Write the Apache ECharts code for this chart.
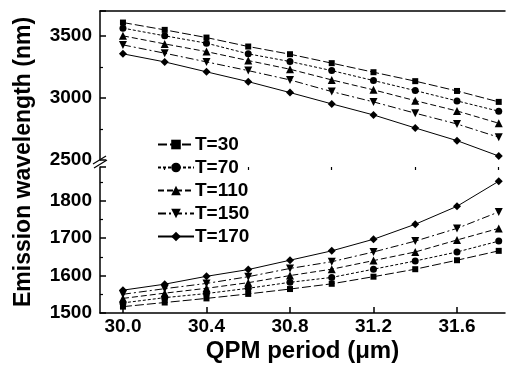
<!DOCTYPE html>
<html>
<head>
<meta charset="utf-8">
<script src="https://cdn.jsdelivr.net/npm/echarts@6/dist/echarts.min.js"></script>
<style>
  html, body { margin: 0; padding: 0; background: #fff; }
  #chart { width: 510px; height: 377px; }
</style>
</head>
<body>
<div id="chart"></div>
<script>
// QPM period vs emission wavelength, two branches on a broken y axis
const periods = [30.0, 30.2, 30.4, 30.6, 30.8, 31.0, 31.2, 31.4, 31.6, 31.8]
const temps = ['T=30', 'T=70', 'T=110', 'T=150', 'T=170']

// upper branch (nm)
const upperT30 = [3607, 3548, 3486, 3414, 3352, 3280, 3207, 3135, 3056, 2968]
const upperT70 = [3562, 3500, 3441, 3355, 3293, 3220, 3140, 3059, 2976, 2893]
const upperT110 = [3500, 3435, 3373, 3301, 3231, 3145, 3065, 2978, 2895, 2796]
const upperT150 = [3427, 3360, 3290, 3220, 3145, 3051, 2968, 2877, 2790, 2683]
const upperT170 = [3355, 3290, 3210, 3131, 3043, 2952, 2863, 2758, 2656, 2532]

// lower branch (nm)
const lowerT30 = [1517, 1528, 1539, 1551, 1564, 1578, 1597, 1617, 1641, 1666]
const lowerT70 = [1527, 1541, 1552, 1566, 1582, 1595, 1617, 1639, 1663, 1692]
const lowerT110 = [1539, 1553, 1566, 1581, 1600, 1617, 1640, 1663, 1695, 1726]
const lowerT150 = [1550, 1565, 1579, 1597, 1619, 1637, 1663, 1692, 1726, 1770]
const lowerT170 = [1561, 1577, 1598, 1616, 1641, 1666, 1697, 1737, 1785, 1852]

const xMajor = [30.0, 30.4, 30.8, 31.2, 31.6]
const xMinor = [30.2, 30.6, 31.0, 31.4, 31.8]

const upper = [upperT30, upperT70, upperT110, upperT150, upperT170]
const lower = [lowerT30, lowerT70, lowerT110, lowerT150, lowerT170]

const symbols = [
  'rect',
  'circle',
  'triangle',
  'path://M0,0 L10,0 L5,9 Z',
  'path://M5,0 L10,5 L5,10 L0,5 Z',
]
const symbolSizes = [6, 7, 8, 8, 8]
const dashes = [[9, 3], [3, 2], [6, 3], [8, 3, 2, 3], 'solid']

const FONT = '"Liberation Sans", Arial, sans-serif'
const X_MIN = 29.89, X_MAX = 31.83

const pairs = vals => vals.map((v, i) => [periods[i], v])

const series = []
temps.forEach((name, k) => {
  const common = {
    name,
    type: 'line',
    symbol: symbols[k],
    symbolSize: symbolSizes[k],
    itemStyle: { color: '#000' },
    lineStyle: { color: '#000', width: 1, type: dashes[k] },
    animation: false,
  }
  series.push({ ...common, xAxisIndex: 0, yAxisIndex: 0, data: pairs(upper[k]) })
  series.push({ ...common, xAxisIndex: 1, yAxisIndex: 1, data: pairs(lower[k]) })
})

const axisLine = { show: true, lineStyle: { color: '#000', width: 1.5 } }
const labelStyle = { color: '#000', fontSize: 19, fontWeight: 'bold', fontFamily: FONT }

const chart = echarts.init(document.getElementById('chart'))
chart.setOption({
  backgroundColor: '#fff',
  textStyle: { fontFamily: FONT },
  grid: [
    { left: 100, right: 5, top: 11, height: 149 },
    { left: 100, right: 5, top: 167, height: 146 },
  ],
  xAxis: [
    {
      gridIndex: 0, type: 'value', min: X_MIN, max: X_MAX, position: 'top',
      axisLine, axisTick: { show: false }, axisLabel: { show: false }, splitLine: { show: false },
    },
    {
      gridIndex: 1, type: 'value', min: X_MIN, max: X_MAX,
      axisLine,
      axisTick: { inside: true, length: 6, customValues: xMajor, lineStyle: { color: '#000', width: 1.5 } },
      axisLabel: { ...labelStyle, margin: 4, customValues: xMajor, formatter: v => v.toFixed(1) },
      splitLine: { show: false },
      name: 'QPM period (\u03bcm)',
      nameLocation: 'middle',
      nameGap: 26,
      nameTextStyle: { color: '#000', fontSize: 24, fontWeight: 'bold', fontFamily: FONT },
    },
    {
      gridIndex: 1, type: 'value', min: X_MIN, max: X_MAX,
      axisLine: { show: false },
      axisTick: { inside: true, length: 3, customValues: xMinor, lineStyle: { color: '#000', width: 1.2 } },
      axisLabel: { show: false }, splitLine: { show: false },
    },
  ],
  yAxis: [
    {
      gridIndex: 0, type: 'value', min: 2500, max: 3700, interval: 500,
      axisLine,
      axisTick: { inside: true, length: 6, lineStyle: { color: '#000', width: 1.5 } },
      minorTick: { show: true, splitNumber: 2, length: 3, lineStyle: { color: '#000', width: 1.2 } },
      axisLabel: { ...labelStyle, margin: 8, showMaxLabel: false, formatter: v => String(v) },
      splitLine: { show: false },
    },
    {
      gridIndex: 1, type: 'value', min: 1500, max: 1890, interval: 100,
      axisLine,
      axisTick: { inside: true, length: 6, lineStyle: { color: '#000', width: 1.5 } },
      minorTick: { show: true, splitNumber: 2, length: 3, lineStyle: { color: '#000', width: 1.2 } },
      axisLabel: { ...labelStyle, margin: 8, showMaxLabel: false, formatter: v => String(v) },
      splitLine: { show: false },
    },
  ],
  legend: {
    orient: 'vertical',
    left: 152,
    top: 130,
    itemWidth: 36,
    itemHeight: 12,
    itemGap: 4,
    data: temps,
    textStyle: { color: '#000', fontSize: 19, fontWeight: 'bold', fontFamily: FONT, padding: [0, 0, 0, -4] },
  },
  graphic: [
    // y axis break marks
    { type: 'line', shape: { x1: 93, y1: 164, x2: 106, y2: 156 }, style: { stroke: '#000', lineWidth: 1.3 } },
    { type: 'line', shape: { x1: 94, y1: 168, x2: 107, y2: 160 }, style: { stroke: '#000', lineWidth: 1.3 } },
    {
      type: 'text',
      x: 24, y: 162,
      rotation: Math.PI / 2,
      style: {
        text: 'Emission wavelength (nm)',
        fill: '#000',
        font: 'bold 23px ' + FONT,
        align: 'center',
        verticalAlign: 'middle',
      },
    },
  ],
  series,
})
</script>
</body>
</html>
